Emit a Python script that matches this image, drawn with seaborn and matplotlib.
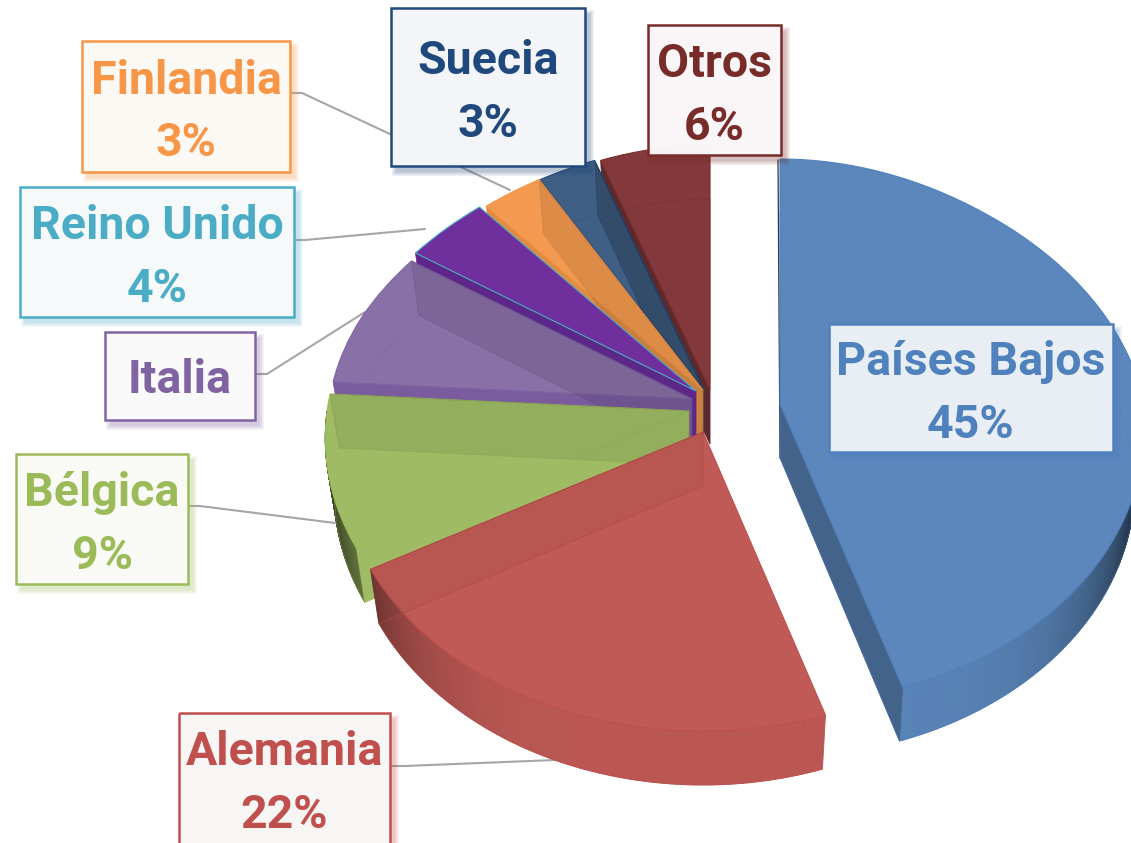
import numpy as np
import matplotlib
matplotlib.use('Agg')
import matplotlib.pyplot as plt
import seaborn as sns
from matplotlib.collections import PolyCollection
from matplotlib.patches import Polygon, Rectangle
from matplotlib.transforms import Affine2D, Transform

# Chart data, clockwise from twelve o'clock
countries = ['Países Bajos', 'Alemania', 'Bélgica', 'Italia', 'Reino Unido', 'Finlandia', 'Suecia', 'Otros']
shares = [45, 22, 9, 8, 4, 3, 3, 6]
share_labels = ['45%', '22%', '9%', '', '4%', '3%', '3%', '6%']

# Colours
fill_colors = ['#5b87bc', '#c05a56', '#9fbc65', '#8970a6', '#6f2f9d', '#f39a50', '#3f5f85', '#83393b']
text_colors = ['#4f81bd', '#c0504d', '#9bbb59', '#8064a2', '#4bacc6', '#f79646', '#1f497d', '#772c2a']
wall_colors = ['#44638a', '#a85250', '#9fbc65', '#7a5c9e', '#5c2788', '#e08c42', '#2f4a70', '#5c2a2c']
box_fills = ['#ecf0f5', '#f9f7f6', '#fafbf7', '#fafafa', '#f6fafb', '#fdf9f5', '#f4f6f9', '#fbf7f8']
see_through = [0.0, 0.04, 0.07, 0.09, 0.0, 0.09, 0.2, 0.0]
floor_line = [0.4, 0.5, 0.35, 0.35, 0.0, 0.3, 0.3, 0.4]

# Layout in pixels
apex_x = [780, 703, 689, 692, 696, 703, 704, 710]
apex_y = [404, 432, 411, 399, 391, 390, 390, 390]
draw_rank = [6, 7, 5, 4, 3, 2, 1, 0]
depth = 54
floor_scale = 0.975
box_left = [829, 179, 16, 105, 20, 82, 391, 648]
box_right = [1113, 390, 188, 255, 294, 290, 585, 781]
box_top = [324, 713, 454, 332, 187, 41, 8, 25]
box_bottom = [452, 850, 584, 420, 317, 172, 166, 155]
leader_x = [None, [390, 405, 555], [188, 200, 335], [255, 267, 365], [294, 305, 425], [290, 302, 510], None, None]
leader_y = [None, [766, 766, 760], [506, 506, 523], [374, 374, 312], [240, 240, 229], [93, 93, 190], None, None]
label_size = 33.5


def warp_points(u, v):
    # turns the flat unit pie into the tilted view, wider towards the viewer
    u = np.asarray(u, dtype=float)
    v = np.asarray(v, dtype=float)
    s = 1 - 0.1 * v - 0.1 * np.clip(v, 0, None) ** 2
    return 362 * u * s, -(272 * v - 27 * v ** 2)


class TiltWarp(Transform):
    input_dims = 2
    output_dims = 2

    def transform_non_affine(self, values):
        x, y = warp_points(values[:, 0], values[:, 1])
        return np.column_stack([x, y])


def radial_face(angle, x0, y0):
    a = np.radians(angle)
    x, y = warp_points([0, np.cos(a)], [0, np.sin(a)])
    xs = [x0 + x[0], x0 + x[1], x0 + x[1] * floor_scale, x0 + x[0]]
    ys = [y0 + y[0], y0 + y[1], y0 + y[1] + depth, y0 + y[0] + depth]
    return np.column_stack([xs, ys])


def shade(color, factor):
    return tuple(np.array(matplotlib.colors.to_rgb(color)) * factor)


sns.set_theme(style='white')
plt.rcParams['font.family'] = ['Roboto', 'Liberation Sans', 'DejaVu Sans']

fig = plt.figure(figsize=(11.31, 8.43), dpi=100)
ax = fig.add_axes([0, 0, 1, 1])

palette = sns.color_palette(fill_colors)
tops, _ = ax.pie(shares, startangle=90, counterclock=False, colors=palette)
floors, _ = ax.pie(shares, startangle=90, counterclock=False, colors=palette)
outlines, _ = ax.pie(shares, startangle=90, counterclock=False, colors=['none'] * len(shares))

ax.set_aspect('auto')
ax.set_xlim(0, 1131)
ax.set_ylim(843, 0)
ax.axis('off')

warp = TiltWarp()
for i in range(len(shares)):
    x0, y0 = apex_x[i], apex_y[i]
    z = 10 + draw_rank[i] * 10
    t1, t2 = tops[i].theta1, tops[i].theta2
    floor_move = Affine2D().scale(floor_scale, 1).translate(x0, y0 + depth)

    floors[i].set_transform(warp + floor_move + ax.transData)
    floors[i].set_zorder(z)
    floors[i].set_edgecolor('none')

    # outer wall, only the part that faces the viewer
    lo, hi = max(t1, -180), min(t2, 0)
    if hi > lo:
        angles = np.radians(np.linspace(lo, hi, 120))
        x, y = warp_points(np.cos(angles), np.sin(angles))
        quads, quad_colors = [], []
        for k in range(len(angles) - 1):
            quads.append([(x0 + x[k], y0 + y[k]), (x0 + x[k + 1], y0 + y[k + 1]),
                          (x0 + x[k + 1] * floor_scale, y0 + y[k + 1] + depth),
                          (x0 + x[k] * floor_scale, y0 + y[k] + depth)])
            quad_colors.append(shade(fill_colors[i], 0.97 - 0.7 * abs(np.cos(angles[k])) ** 5))
        ax.add_collection(PolyCollection(quads, facecolors=quad_colors, edgecolors=quad_colors,
                                         linewidths=0.6, zorder=z + 1))

    # straight walls: front ones are solid, back ones show through the top
    faces = [(t1, np.cos(np.radians(t1)) > 0), (t2, np.cos(np.radians(t2)) < 0)]
    for angle, is_front in faces:
        if is_front:
            ax.add_patch(Polygon(radial_face(angle, x0, y0), closed=True, facecolor=wall_colors[i],
                                 edgecolor=wall_colors[i], linewidth=0.5, zorder=z + 2))
        elif see_through[i] > 0 and np.cos(np.radians(angle)) < 0:
            ax.add_patch(Polygon(radial_face(angle, x0, y0), closed=True, facecolor=(0, 0, 0, see_through[i]),
                                 edgecolor=(0, 0, 0, 0.08), linewidth=0.7, zorder=z + 4))

    tops[i].set_transform(warp + Affine2D().translate(x0, y0) + ax.transData)
    tops[i].set_zorder(z + 3)
    tops[i].set_edgecolor(text_colors[i])
    tops[i].set_linewidth(0.8)

    outlines[i].set_transform(warp + floor_move + ax.transData)
    outlines[i].set_zorder(z + 5)
    outlines[i].set_facecolor('none')
    outlines[i].set_edgecolor((*matplotlib.colors.to_rgb(text_colors[i]), floor_line[i]))
    outlines[i].set_linewidth(0.7)

# thin dark seam on the left side of the exploded slice
ax.plot([apex_x[0] - 2, apex_x[0]], [160, apex_y[0] + depth], color='#26384e', lw=0.9, zorder=60)

# leader lines and label boxes
for i in range(len(countries)):
    if leader_x[i] is not None:
        ax.plot(leader_x[i], leader_y[i], color='#a6a6a6', lw=1.5, zorder=5)

    w = box_right[i] - box_left[i]
    h = box_bottom[i] - box_top[i]
    for grow in [4, 3, 2, 1, 0]:
        ax.add_patch(Rectangle((box_left[i] + 5 - grow, box_top[i] + 6 - grow), w + 2 * grow, h + 2 * grow,
                               facecolor=text_colors[i], edgecolor='none', alpha=0.07, zorder=100))
    ax.add_patch(Rectangle((box_left[i], box_top[i]), w, h, facecolor=box_fills[i],
                           edgecolor='none', alpha=0.99, zorder=101))
    ax.add_patch(Rectangle((box_left[i], box_top[i]), w, h, facecolor='none',
                           edgecolor=text_colors[i], linewidth=1.8, zorder=101))

    cx = (box_left[i] + box_right[i]) / 2
    cy = (box_top[i] + min(box_bottom[i], 843)) / 2
    if share_labels[i]:
        ax.text(cx, cy - 26, countries[i], color=text_colors[i], fontsize=label_size, fontweight='bold',
                ha='center', va='center', zorder=102)
        ax.text(cx, cy + 37, share_labels[i], color=text_colors[i], fontsize=label_size, fontweight='bold',
                ha='center', va='center', zorder=102)
    else:
        ax.text(cx, cy + 4, countries[i], color=text_colors[i], fontsize=label_size, fontweight='bold',
                ha='center', va='center', zorder=102)

fig.savefig('out.png', dpi=100, facecolor='white')
